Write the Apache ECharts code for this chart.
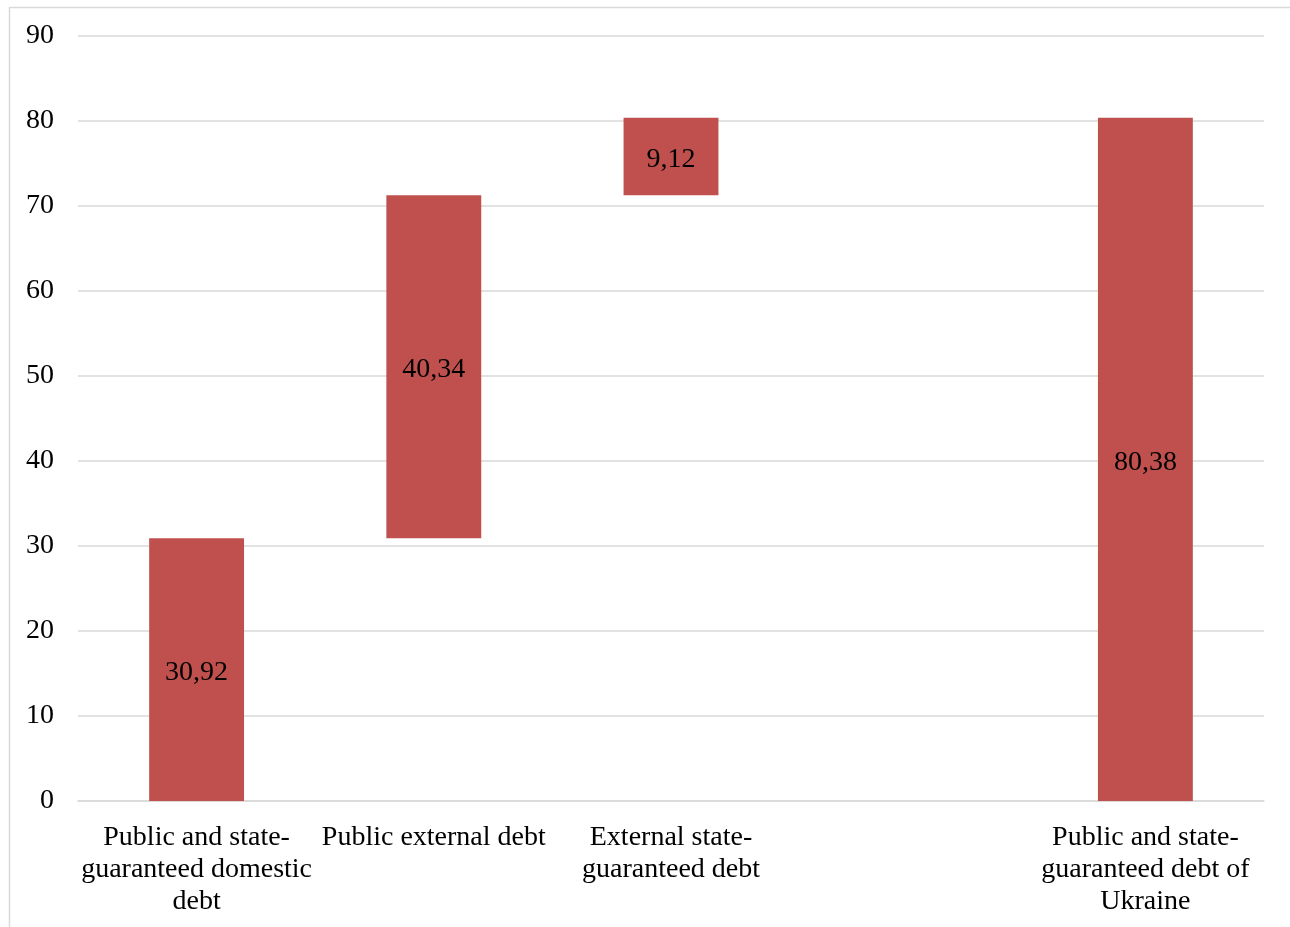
<!DOCTYPE html>
<html>
<head>
<meta charset="utf-8">
<style>
  html, body { margin: 0; padding: 0; background: #ffffff; }
  #chart { width: 1290px; height: 927px; }
</style>
<script src="https://cdn.jsdelivr.net/npm/echarts@6/dist/echarts.min.js"></script>
</head>
<body>
<div id="chart"></div>
<script>
// Debt components (waterfall), billions
const categories = [
  'Public and state-\nguaranteed domestic\ndebt',
  'Public external debt',
  'External state-\nguaranteed debt',
  '',
  'Public and state-\nguaranteed debt of\nUkraine'
];
const baseValues = [0, 30.92, 71.26, null, 0];
const barValues = [30.92, 40.34, 9.12, null, 80.38];
const yTicks = { min: 0, max: 90, interval: 10 };

const FONT = '"Liberation Serif", "Times New Roman", serif';
const BAR_COLOR = '#C0504D';

const chart = echarts.init(document.getElementById('chart'), null, { renderer: 'canvas' });

chart.setOption({
  animation: false,
  backgroundColor: '#ffffff',
  graphic: [{
    type: 'rect',
    shape: { x: 9.5, y: 7.5, width: 1300, height: 950 },
    style: { fill: 'none', stroke: '#d9d9d9', lineWidth: 1.5 },
    silent: true
  }],
  grid: { left: 78, right: 26, top: 36, bottom: 126, containLabel: false },
  xAxis: {
    type: 'category',
    data: categories,
    axisLine: { show: true, lineStyle: { color: '#d9d9d9', width: 1.5 } },
    axisTick: { show: false },
    axisLabel: {
      interval: 0,
      margin: 21,
      color: '#000000',
      fontFamily: FONT,
      fontSize: 28,
      lineHeight: 32,
      align: 'center'
    }
  },
  yAxis: {
    type: 'value',
    min: yTicks.min,
    max: yTicks.max,
    interval: yTicks.interval,
    axisLine: { show: false },
    axisTick: { show: false },
    splitLine: { show: true, lineStyle: { color: '#d9d9d9', width: 1.5 } },
    axisLabel: {
      margin: 24,
      color: '#000000',
      fontFamily: FONT,
      fontSize: 28,
      padding: [4, 0, 0, 0]
    }
  },
  series: [
    {
      name: 'base',
      type: 'bar',
      stack: 'debt',
      data: baseValues,
      barWidth: '40%',
      itemStyle: { color: 'transparent' },
      emphasis: { disabled: true },
      silent: true
    },
    {
      name: 'value',
      type: 'bar',
      stack: 'debt',
      data: barValues,
      barWidth: '40%',
      itemStyle: { color: BAR_COLOR },
      label: {
        show: true,
        position: 'inside',
        offset: [0, 3],
        color: '#000000',
        fontFamily: FONT,
        fontSize: 28,
        formatter: p => String(p.value).replace('.', ',')
      }
    }
  ]
});
</script>
</body>
</html>
